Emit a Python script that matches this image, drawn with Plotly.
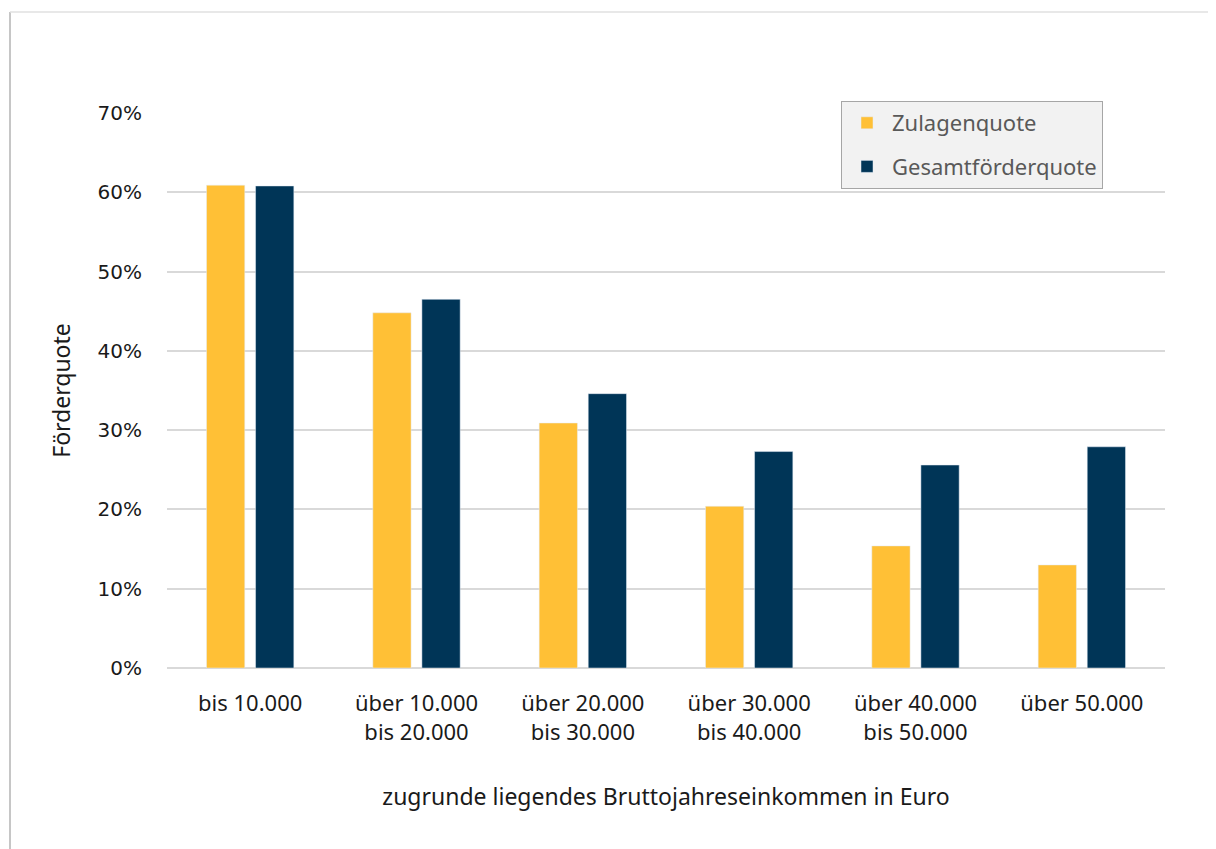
import plotly.graph_objects as go

# Daten (in Prozent)
KATEGORIEN = [
    "bis 10.000",
    "über 10.000<br>bis 20.000",
    "über 20.000<br>bis 30.000",
    "über 30.000<br>bis 40.000",
    "über 40.000<br>bis 50.000",
    "über 50.000",
]
ZULAGENQUOTE = [60.9, 44.8, 30.9, 20.4, 15.4, 13.0]
GESAMTFOERDERQUOTE = [60.8, 46.5, 34.6, 27.3, 25.6, 27.9]
Y_TICKS = [0, 10, 20, 30, 40, 50, 60, 70]
Y_TICKTEXT = [f"{v}%" for v in Y_TICKS]

# die Seite hat 8px Body-Rand, daher alles um 8px versetzt
OFF = 8
W, H = 1216, 849
ML, MT = 167 - OFF, 113 - OFF
MR = W - (1165 - OFF)
MB = H - (668 - OFF)
PW, PH = W - ML - MR, H - MT - MB

GELB = "#FFC036"
NAVY = "#003557"
TEXT = "#1a1a1a"
GRID = "#d9d9d9"


def px_x(px):
    # Seitenpixel -> paper-Koordinate
    return (px - OFF - ML) / PW


def px_y(py):
    return (H - MB - (py - OFF)) / PH


fig = go.Figure()
fig.add_trace(go.Bar(
    name="Zulagenquote", x=KATEGORIEN, y=ZULAGENQUOTE,
    marker_color=GELB, legendgroup="a",
))
fig.add_trace(go.Bar(
    name="Gesamtförderquote", x=KATEGORIEN, y=GESAMTFOERDERQUOTE,
    marker_color=NAVY, legendgroup="b",
))

fig.update_layout(
    width=W, height=H,
    margin=dict(l=ML, r=MR, t=MT, b=MB, autoexpand=False),
    paper_bgcolor="white", plot_bgcolor="white",
    barmode="group", bargap=0.41, bargroupgap=0.22,
    font=dict(family="Noto Sans", size=22, color=TEXT),
    legend=dict(
        x=px_x(841), y=px_y(101), xanchor="left", yanchor="top",
        bgcolor="#f2f2f2", bordercolor="#a6a6a6", borderwidth=1,
        font=dict(family="Noto Sans", size=22, color="#595959"),
        traceorder="grouped", tracegroupgap=12,
        itemwidth=40, itemclick=False,
    ),
    xaxis=dict(
        showgrid=False, showline=False, ticks="",
        tickfont=dict(family="Noto Sans", size=22, color=TEXT),
        ticklabelstandoff=20,
        title=dict(text="zugrunde liegendes Bruttojahreseinkommen in Euro",
                   font=dict(family="Noto Sans", size=23, color=TEXT),
                   standoff=44),
        automargin=False,
    ),
    yaxis=dict(
        range=[0, 70], tickvals=Y_TICKS, ticktext=Y_TICKTEXT,
        showgrid=True, gridcolor=GRID, gridwidth=1.5,
        zeroline=True, zerolinecolor=GRID, zerolinewidth=2,
        ticks="", ticklabelstandoff=24,
        tickfont=dict(family="DejaVu Sans", size=20, color=TEXT),
        title=dict(text="Förderquote",
                   font=dict(family="Noto Sans", size=23, color=TEXT),
                   standoff=20),
        automargin=False,
    ),
    shapes=[
        dict(type="line", xref="paper", yref="paper",
             x0=px_x(10), x1=px_x(10), y0=px_y(12), y1=px_y(H + OFF),
             line=dict(color="#b3b3b3", width=1.5)),
        dict(type="line", xref="paper", yref="paper",
             x0=px_x(10), x1=px_x(W + OFF), y0=px_y(12), y1=px_y(12),
             line=dict(color="#e0e0e0", width=1.5)),
    ],
)

fig.write_html("out.html")
